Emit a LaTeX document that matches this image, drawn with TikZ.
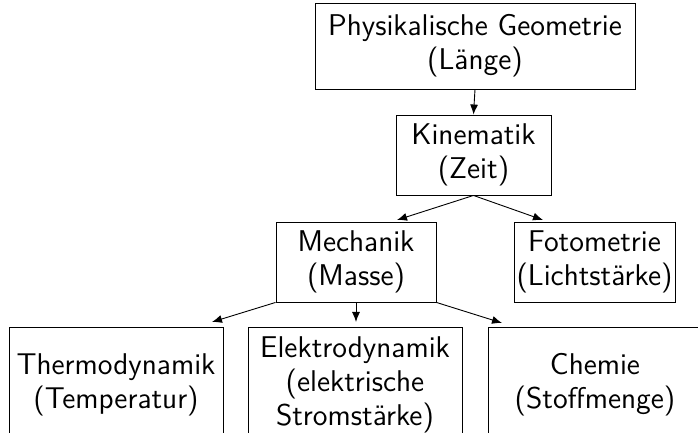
\documentclass[tikz,border=0pt]{standalone}
\usetikzlibrary{arrows.meta}
\begin{document}
\begin{tikzpicture}[x=0.5pt,y=-0.5pt,
  box/.style={draw,line width=0.45pt,align=center,inner sep=0pt,
    font=\sffamily\fontsize{15}{17}\selectfont},
  arr/.style={line width=0.45pt,-{Latex[length=5pt,width=4pt]}}]
\useasboundingbox (0,0) rectangle (698,433);
\node[box,minimum width=160pt,minimum height=43pt] (geo) at (475,46) {Physikalische Geometrie\\(Länge)};
\node[box,minimum width=77.5pt,minimum height=40pt] (kin) at (473.5,155) {Kinematik\\(Zeit)};
\node[box,minimum width=80pt,minimum height=40pt] (mech) at (356,262) {Mechanik\\(Masse)};
\node[box,minimum width=80.5pt,minimum height=40pt] (foto) at (594.5,262) {Fotometrie\\(Lichtstärke)};
\node[box,minimum width=107pt,minimum height=57pt,anchor=north] (thermo) at (116,327) {Thermodynamik\\(Temperatur)};
\node[box,minimum width=107pt,minimum height=57pt,anchor=north] (elek) at (355,327) {Elektrodynamik\\(elektrische\\Stromstärke)};
\node[box,minimum width=107pt,minimum height=57pt,anchor=north] (chem) at (595,327) {Chemie\\(Stoffmenge)};
\coordinate (k1) at (397,220);
\coordinate (k2) at (543,220);
\coordinate (m1) at (212,322);
\coordinate (m2) at (356,322);
\coordinate (m3) at (502,323);
\draw[arr] (geo.south) -- (kin.north);
\draw[arr] (kin.south) -- (k1);
\draw[arr] (kin.south) -- (k2);
\draw[arr] (mech.south west) -- (m1);
\draw[arr] (mech.south) -- (m2);
\draw[arr] (mech.south east) -- (m3);
\end{tikzpicture}
\end{document}
